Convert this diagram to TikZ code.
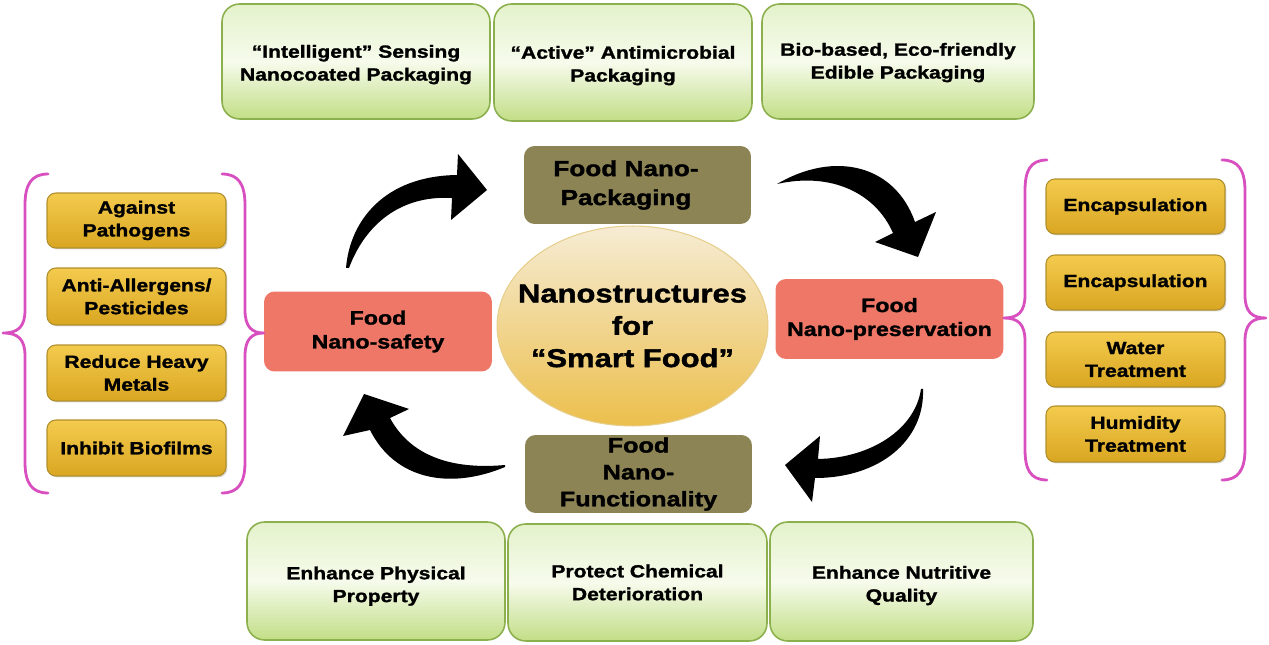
\documentclass[tikz,border=0pt]{standalone}
\usepackage{fontspec}
\setmainfont{Liberation Sans}[FakeStretch=1.2, BoldFeatures={FakeBold=1.5}]
\usetikzlibrary{shapes.geometric,shadows}
\definecolor{gtop}{HTML}{E4F2CB}
\definecolor{gmid}{HTML}{F6FBEC}
\definecolor{gbot}{HTML}{C2DE86}
\definecolor{gborder}{HTML}{8DB04F}
\definecolor{goldtop}{HTML}{F4CB4E}
\definecolor{goldbot}{HTML}{D9A621}
\definecolor{goldborder}{HTML}{B0902C}
\definecolor{olive}{HTML}{8D8455}
\definecolor{salmon}{HTML}{EE7767}
\definecolor{bracecol}{HTML}{D84FBF}
\definecolor{elltop}{HTML}{F6ECD4}
\definecolor{ellbot}{HTML}{ECBF4C}
\definecolor{ellborder}{HTML}{E6CE8C}
\tikzset{
  greenbox/.style={draw=gborder, line width=0.9pt, rounded corners=10pt,
    top color=gtop, bottom color=gbot, middle color=gmid,
    align=center, inner sep=0pt, font=\bfseries\fontsize{10}{13}\selectfont},
  goldbox/.style={draw=goldborder, line width=0.6pt, rounded corners=5pt,
    top color=goldtop, bottom color=goldbot, minimum width=3.58cm,
    align=center, inner sep=0pt, font=\bfseries\fontsize{10}{13}\selectfont,
    drop shadow={opacity=0.3, shadow xshift=0.8pt, shadow yshift=-0.8pt}},
  olivebox/.style={fill=olive, rounded corners=6pt, minimum width=4.54cm,
    minimum height=1.56cm, align=center, inner sep=0pt},
  salmonbox/.style={fill=salmon, rounded corners=6pt, minimum width=4.56cm,
    minimum height=1.6cm, align=center, inner sep=0pt,
    font=\bfseries\fontsize{11}{13.6}\selectfont},
  centreell/.style={ellipse, draw=ellborder, line width=0.6pt,
    top color=elltop, bottom color=ellbot, minimum width=5.42cm,
    minimum height=4cm, inner sep=0pt},
  centretxt/.style={align=center, inner sep=0pt,
    font=\bfseries\fontsize{14.7}{18.4}\selectfont},
  bigarrow/.style={fill=black},
  bracestyle/.style={draw=bracecol, line width=1.6pt, line cap=round, line join=round}
}
\begin{document}
\begin{tikzpicture}[x=0.02cm, y=-0.02cm]
\useasboundingbox (0,0) rectangle (1269,645);

% top green boxes
\node[greenbox, minimum width=5.36cm, minimum height=2.3cm] (g1) at (356,61.5) {\rule{0pt}{10.8pt}“Intelligent” Sensing\\Nanocoated Packaging};
\node[greenbox, minimum width=5.16cm, minimum height=2.34cm] (g2) at (623,62.5) {\rule{0pt}{10.8pt}“Active” Antimicrobial\\Packaging};
\node[greenbox, minimum width=5.44cm, minimum height=2.3cm] (g3) at (898,61.5) {\rule{0pt}{8.5pt}Bio-based, Eco-friendly\\Edible Packaging};

% bottom green boxes
\node[greenbox, minimum width=5.16cm, minimum height=2.36cm] (b1) at (376,581) {\rule{0pt}{13.1pt}Enhance Physical\\Property};
\node[greenbox, minimum width=5.18cm, minimum height=2.34cm] (b2) at (637.5,582.5) {Protect Chemical\\Deterioration};
\node[greenbox, minimum width=5.26cm, minimum height=2.38cm] (b3) at (901.5,581.5) {\rule{0pt}{11.9pt}Enhance Nutritive\\Quality};

% central ellipse
\node[centreell] (centre) at (632.5,326) {};
\node[centretxt] (centretext) at (centre) {Nanostructures\\for\\“Smart Food”};

% olive boxes
\node[olivebox, font=\bfseries\fontsize{12.4}{16.5}\selectfont] (pack) at (637.5,185) {Food Nano-\hspace*{0.46cm}\\Packaging\hspace*{0.46cm}};
\node[olivebox, font=\bfseries\fontsize{12}{15.3}\selectfont] (func) at (638.5,474) {Food\\Nano-\\Functionality};

% salmon boxes
\node[salmonbox] (safe) at (378,331.5) {Food\\Nano-safety};
\node[salmonbox] (pres) at (889.5,319) {Food\\Nano-preservation};

% left gold boxes
\node[goldbox, minimum height=1.1cm] (l1) at (136.5,220.5) {Against\\Pathogens};
\node[goldbox, minimum height=1.14cm] (l2) at (136.5,296.5) {Anti-Allergens/\\Pesticides};
\node[goldbox, minimum height=1.12cm] (l3) at (136.5,373) {Reduce Heavy\\Metals};
\node[goldbox, minimum height=1.12cm] (l4) at (136.5,448) {Inhibit Biofilms};

% right gold boxes
\node[goldbox, minimum height=1.1cm] (r1) at (1135.5,206.5) {Encapsulation};
\node[goldbox, minimum height=1.1cm] (r2) at (1135.5,282.5) {Encapsulation};
\node[goldbox, minimum height=1.1cm] (r3) at (1135.5,359.5) {Water\\Treatment};
\node[goldbox, minimum height=1.12cm] (r4) at (1135.5,434) {Humidity\\Treatment};

% braces (left group)
\draw[bracestyle] (48,174) .. controls (31,174) and (25,185) .. (25,205) -- (25,310)
  .. controls (25,327) and (18,333) .. (3,333) .. controls (18,333) and (25,339) .. (25,356)
  -- (25,462) .. controls (25,482) and (31,493) .. (48,493);
\draw[bracestyle] (222,174) .. controls (239,174) and (245,185) .. (245,205) -- (245,310)
  .. controls (245,327) and (252,333) .. (safe.west |- 0,333) .. controls (252,333) and (245,339) .. (245,356)
  -- (245,462) .. controls (245,482) and (239,493) .. (222,493);
% braces (right group)
\draw[bracestyle] (1047,160) .. controls (1030,160) and (1025,171) .. (1025,191) -- (1025,295)
  .. controls (1025,312) and (1018,318) .. (pres.east |- 0,318) .. controls (1018,318) and (1025,324) .. (1025,341)
  -- (1025,449) .. controls (1025,469) and (1030,480) .. (1047,480);
\draw[bracestyle] (1222,160) .. controls (1239,160) and (1245,171) .. (1245,191) -- (1245,295)
  .. controls (1245,312) and (1252,318) .. (1266,318) .. controls (1252,318) and (1245,324) .. (1245,341)
  -- (1245,449) .. controls (1245,469) and (1239,480) .. (1222,480);

% curved arrows
\fill[bigarrow] (346,268) .. controls (350,220) and (385,176) .. (457,175) -- (458,154) -- (487,190)
  -- (451,220) -- (452,198) .. controls (400,195) and (365,225) .. (349,268) -- cycle;
\fill[bigarrow] (777,184) .. controls (835,150) and (895,165) .. (915,222) -- (936,212) -- (918,257)
  -- (875,242) -- (893,233) .. controls (875,192) and (830,172) .. (777,184) -- cycle;
\fill[bigarrow] (923,389) .. controls (925,440) and (880,478) .. (815,478) -- (812,502) -- (785,465)
  -- (820,436) -- (818,459) .. controls (870,458) and (915,430) .. (921,389) -- cycle;
\fill[bigarrow] (505,467) .. controls (450,490) and (395,480) .. (370,430) -- (343,436) -- (364,394)
  -- (409,409) -- (390,418) .. controls (410,455) and (450,470) .. (505,465) -- cycle;
\end{tikzpicture}
\end{document}
